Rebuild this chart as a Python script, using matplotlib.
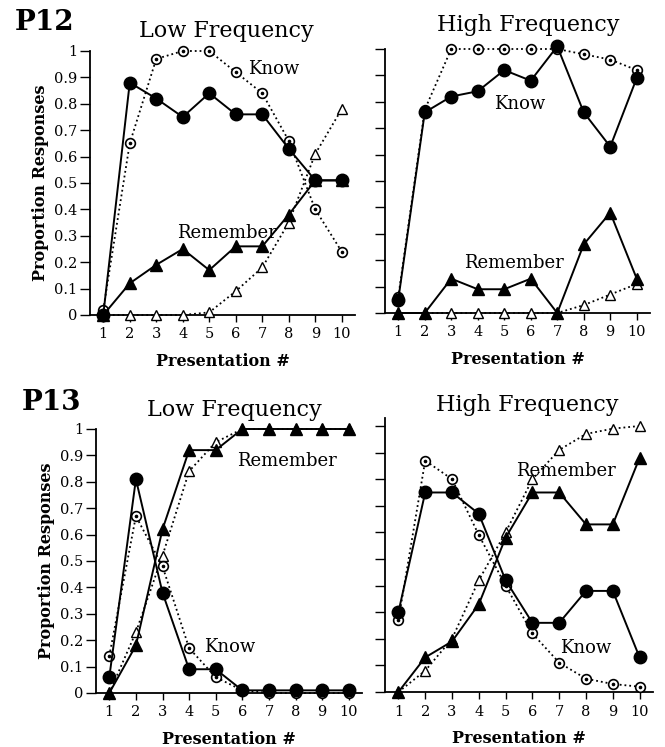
import numpy as np
import matplotlib
matplotlib.use('Agg')
import matplotlib.pyplot as plt

plt.rcParams['font.family'] = 'DejaVu Serif'

# presentation number
pres = np.arange(1, 11)

# P12, low frequency
p12_low_know_obs = [0.0, 0.88, 0.82, 0.75, 0.84, 0.76, 0.76, 0.63, 0.51, 0.51]
p12_low_know_fit = [0.02, 0.65, 0.97, 1.0, 1.0, 0.92, 0.84, 0.66, 0.40, 0.24]
p12_low_rem_obs = [0.0, 0.12, 0.19, 0.25, 0.17, 0.26, 0.26, 0.38, 0.51, 0.51]
p12_low_rem_fit = [0.0, 0.0, 0.0, 0.0, 0.01, 0.09, 0.18, 0.35, 0.61, 0.78]

# P12, high frequency
p12_high_know_obs = [0.05, 0.76, 0.82, 0.84, 0.92, 0.88, 1.01, 0.76, 0.63, 0.89]
p12_high_know_fit = [0.06, 0.77, 1.0, 1.0, 1.0, 1.0, 1.0, 0.98, 0.96, 0.92]
p12_high_rem_obs = [0.0, 0.0, 0.13, 0.09, 0.09, 0.13, 0.0, 0.26, 0.38, 0.13]
p12_high_rem_fit = [0.0, 0.0, 0.0, 0.0, 0.0, 0.0, 0.0, 0.03, 0.07, 0.11]

# P13, low frequency
p13_low_know_obs = [0.06, 0.81, 0.38, 0.09, 0.09, 0.01, 0.01, 0.01, 0.01, 0.01]
p13_low_know_fit = [0.14, 0.67, 0.48, 0.17, 0.06, 0.01, 0.0, 0.0, 0.0, 0.0]
p13_low_rem_obs = [0.0, 0.18, 0.62, 0.92, 0.92, 1.0, 1.0, 1.0, 1.0, 1.0]
p13_low_rem_fit = [0.0, 0.23, 0.52, 0.84, 0.95, 1.0, 1.0, 1.0, 1.0, 1.0]

# P13, high frequency
p13_high_know_obs = [0.30, 0.75, 0.75, 0.67, 0.42, 0.26, 0.26, 0.38, 0.38, 0.13]
p13_high_know_fit = [0.27, 0.87, 0.80, 0.59, 0.40, 0.22, 0.11, 0.05, 0.03, 0.02]
p13_high_rem_obs = [0.0, 0.13, 0.19, 0.33, 0.58, 0.75, 0.75, 0.63, 0.63, 0.88]
p13_high_rem_fit = [0.0, 0.08, 0.20, 0.42, 0.60, 0.80, 0.91, 0.97, 0.99, 1.0]

ytick_vals = [0, 0.1, 0.2, 0.3, 0.4, 0.5, 0.6, 0.7, 0.8, 0.9, 1.0]
ytick_labels = ['0', '0.1', '0.2', '0.3', '0.4', '0.5', '0.6', '0.7', '0.8', '0.9', '1']

W, H = 665, 747
fig = plt.figure(figsize=(W / 100, H / 100), dpi=100)


def px_axes(left, width, y0, y1):
    # y0 = pixel row of the axis line, y1 = pixel row of the top
    return fig.add_axes([left / W, (H - y0) / H, width / W, (y0 - y1) / H])


def panel(ax, know_obs, know_fit, rem_obs, rem_fit, ytop, show_ylabels):
    # model curves (dotted, open markers) first, data on top
    ax.plot(pres, rem_fit, ls=':', lw=1.3, color='black', marker='^', ms=6.5,
            mfc='white', mec='black', mew=1.0, clip_on=False, zorder=3)
    ax.plot(pres, know_fit, ls=':', lw=1.3, color='black', marker='o', ms=7,
            mfc='white', mec='black', mew=1.2, clip_on=False, zorder=3)
    ax.plot(pres, know_fit, ls='none', marker='o', ms=1.6, color='black',
            clip_on=False, zorder=3)
    ax.plot(pres, rem_obs, ls='-', lw=1.4, color='black', marker='^', ms=8.5,
            clip_on=False, zorder=4)
    ax.plot(pres, know_obs, ls='-', lw=1.4, color='black', marker='o', ms=9,
            clip_on=False, zorder=5)

    ax.set_xlim(0.5, 10.5)
    ax.set_ylim(0, ytop)
    ax.set_xticks(pres)
    ax.set_yticks(ytick_vals)
    if show_ylabels:
        ax.set_yticklabels(ytick_labels)
        ax.set_ylabel('Proportion Responses', fontsize=11.5, fontweight='bold',
                      labelpad=4)
    else:
        ax.set_yticklabels([])
    for s in ['top', 'right']:
        ax.spines[s].set_visible(False)
    for s in ['left', 'bottom']:
        ax.spines[s].set_linewidth(1.3)
    ax.tick_params(axis='both', direction='out', labelsize=10.5, width=1.0)
    ax.tick_params(axis='y', length=7, pad=2)
    ax.tick_params(axis='x', length=5, pad=4)
    ax.set_xlabel('Presentation #', fontsize=11.5, fontweight='bold', labelpad=8)


ax1 = px_axes(90, 265, 315, 51)
panel(ax1, p12_low_know_obs, p12_low_know_fit, p12_low_rem_obs, p12_low_rem_fit,
      1.0, True)
ax1.text(6.45, 0.93, 'Know', fontsize=13, ha='left', va='center')
ax1.text(3.8, 0.31, 'Remember', fontsize=13, ha='left', va='center')

ax2 = px_axes(385, 265, 313, 49)
panel(ax2, p12_high_know_obs, p12_high_know_fit, p12_high_rem_obs, p12_high_rem_fit,
      1.0, False)
ax2.text(4.6, 0.79, 'Know', fontsize=13, ha='left', va='center')
ax2.text(3.5, 0.19, 'Remember', fontsize=13, ha='left', va='center')

ax3 = px_axes(96, 266, 693, 429)
panel(ax3, p13_low_know_obs, p13_low_know_fit, p13_low_rem_obs, p13_low_rem_fit,
      1.0, True)
ax3.text(5.8, 0.88, 'Remember', fontsize=13, ha='left', va='center')
ax3.text(4.55, 0.175, 'Know', fontsize=13, ha='left', va='center')

ax4 = px_axes(385, 268, 692, 418)
panel(ax4, p13_high_know_obs, p13_high_know_fit, p13_high_rem_obs, p13_high_rem_fit,
      1.03, False)
ax4.text(5.4, 0.83, 'Remember', fontsize=13, ha='left', va='center')
ax4.text(7.05, 0.165, 'Know', fontsize=13, ha='left', va='center')

# panel titles and participant labels
fig.text(226 / W, 1 - 31 / H, 'Low Frequency', fontsize=16, ha='center', va='center')
fig.text(528 / W, 1 - 25 / H, 'High Frequency', fontsize=16, ha='center', va='center')
fig.text(234 / W, 1 - 410 / H, 'Low Frequency', fontsize=16, ha='center', va='center')
fig.text(527 / W, 1 - 405 / H, 'High Frequency', fontsize=16, ha='center', va='center')
fig.text(15 / W, 1 - 23 / H, 'P12', fontsize=20, fontweight='bold', ha='left', va='center')
fig.text(22 / W, 1 - 402 / H, 'P13', fontsize=20, fontweight='bold', ha='left', va='center')

fig.savefig('out.png', dpi=100)
